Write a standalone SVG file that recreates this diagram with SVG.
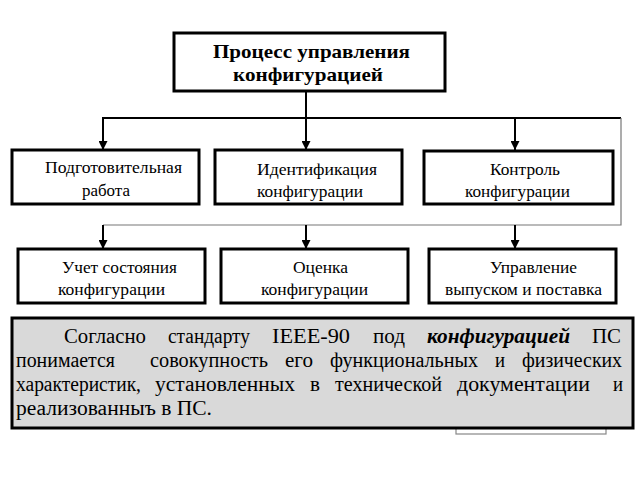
<svg xmlns="http://www.w3.org/2000/svg" width="640" height="480" viewBox="0 0 640 480">
<defs>
<style>
.box{fill:#fff;stroke:#000;stroke-width:3}
text{font-family:"Liberation Serif","DejaVu Serif","Times New Roman",serif;fill:#000}
.t{font-size:17px}
.h{font-size:19px;font-weight:bold}
.p{font-size:20px}
.ln{fill:none;stroke:#000;stroke-width:2}
.thin{fill:none;stroke:#777;stroke-width:1.2}
</style>
<marker id="arr" viewBox="0 0 10 10" refX="10" refY="5" markerWidth="9" markerHeight="9" markerUnits="userSpaceOnUse" orient="auto">
<path d="M0,0 L10,5 L0,10 Z" fill="#000"/>
</marker>
</defs>
<rect width="640" height="480" fill="#fff"/>
<g id="connectors">
<line class="ln" x1="306" y1="91" x2="306" y2="150" marker-end="url(#arr)"/>
<polyline class="ln" points="103,140 103,118 621,118"/>
<line class="ln" x1="103" y1="130" x2="103" y2="150" marker-end="url(#arr)"/>
<line class="ln" x1="515" y1="118" x2="515" y2="150" marker-end="url(#arr)"/>
<polyline class="thin" points="621,118 621,225 103,225"/>
<line class="ln" x1="103" y1="225" x2="103" y2="249" marker-end="url(#arr)"/>
<line class="ln" x1="306" y1="225" x2="306" y2="249" marker-end="url(#arr)"/>
<line class="ln" x1="515" y1="225" x2="515" y2="249" marker-end="url(#arr)"/>
</g>
<g id="top">
<rect class="box" x="174" y="33" width="271" height="58"/>
<text class="h" x="213" y="58" textLength="197" lengthAdjust="spacingAndGlyphs">Процесс управления</text>
<text class="h" x="233" y="81" textLength="150" lengthAdjust="spacingAndGlyphs">конфигурацией</text>
</g>
<g id="n1">
<rect class="box" x="12" y="150" width="187" height="54"/>
<text class="t" x="45" y="173" textLength="137" lengthAdjust="spacingAndGlyphs">Подготовительная</text>
<text class="t" x="82" y="196" textLength="48" lengthAdjust="spacingAndGlyphs">работа</text>
</g>
<g id="n2">
<rect class="box" x="215" y="150" width="187" height="54"/>
<text class="t" x="257" y="175" textLength="120" lengthAdjust="spacingAndGlyphs">Идентификация</text>
<text class="t" x="257" y="197" textLength="106" lengthAdjust="spacingAndGlyphs">конфигурации</text>
</g>
<g id="n3">
<rect class="box" x="424" y="151" width="189" height="53"/>
<text class="t" x="490" y="175" textLength="70" lengthAdjust="spacingAndGlyphs">Контроль</text>
<text class="t" x="465" y="197" textLength="105" lengthAdjust="spacingAndGlyphs">конфигурации</text>
</g>
<g id="n4">
<rect class="box" x="18" y="249" width="187" height="54"/>
<text class="t" x="62" y="273" textLength="115" lengthAdjust="spacingAndGlyphs">Учет состояния</text>
<text class="t" x="58" y="295" textLength="107" lengthAdjust="spacingAndGlyphs">конфигурации</text>
</g>
<g id="n5">
<rect class="box" x="221" y="249" width="187" height="54"/>
<text class="t" x="293" y="273" textLength="55" lengthAdjust="spacingAndGlyphs">Оценка</text>
<text class="t" x="261" y="295" textLength="107" lengthAdjust="spacingAndGlyphs">конфигурации</text>
</g>
<g id="n6">
<rect class="box" x="429" y="249" width="187" height="54"/>
<text class="t" x="490" y="273" textLength="87" lengthAdjust="spacingAndGlyphs">Управление</text>
<text class="t" x="445" y="295" textLength="157" lengthAdjust="spacingAndGlyphs">выпуском и поставка</text>
</g>
<g id="note">
<rect x="456" y="420" width="150" height="14" fill="#fff" stroke="#888" stroke-width="1.2"/>
<rect x="12" y="318" width="621" height="110" fill="#d9d9d9" stroke="#000" stroke-width="3"/>
<text class="p" y="343"><tspan x="64" textLength="82" lengthAdjust="spacingAndGlyphs">Согласно</tspan><tspan x="168" textLength="82" lengthAdjust="spacingAndGlyphs">стандарту</tspan><tspan x="272" textLength="78" lengthAdjust="spacingAndGlyphs">IEEE-90</tspan><tspan x="373" textLength="32" lengthAdjust="spacingAndGlyphs">под</tspan><tspan x="427" font-weight="bold" font-style="italic" textLength="143" lengthAdjust="spacingAndGlyphs">конфигурацией</tspan><tspan x="592" textLength="29" lengthAdjust="spacingAndGlyphs">ПС</tspan></text>
<text class="p" y="367"><tspan x="16" textLength="99" lengthAdjust="spacingAndGlyphs">понимается</tspan><tspan x="150" textLength="118" lengthAdjust="spacingAndGlyphs">совокупность</tspan><tspan x="285" textLength="28" lengthAdjust="spacingAndGlyphs">его</tspan><tspan x="330" textLength="148" lengthAdjust="spacingAndGlyphs">функциональных</tspan><tspan x="495" textLength="10" lengthAdjust="spacingAndGlyphs">и</tspan><tspan x="522" textLength="100" lengthAdjust="spacingAndGlyphs">физических</tspan></text>
<text class="p" y="391"><tspan x="16" textLength="125" lengthAdjust="spacingAndGlyphs">характеристик,</tspan><tspan x="155" textLength="140" lengthAdjust="spacingAndGlyphs">установленных</tspan><tspan x="310" textLength="10" lengthAdjust="spacingAndGlyphs">в</tspan><tspan x="335" textLength="107" lengthAdjust="spacingAndGlyphs">технической</tspan><tspan x="457" textLength="133" lengthAdjust="spacingAndGlyphs">документации</tspan><tspan x="613" textLength="10" lengthAdjust="spacingAndGlyphs">и</tspan></text>
<text class="p" x="16" y="415" textLength="196" lengthAdjust="spacingAndGlyphs">реализованныъ в ПС.</text>
</g>
</svg>
